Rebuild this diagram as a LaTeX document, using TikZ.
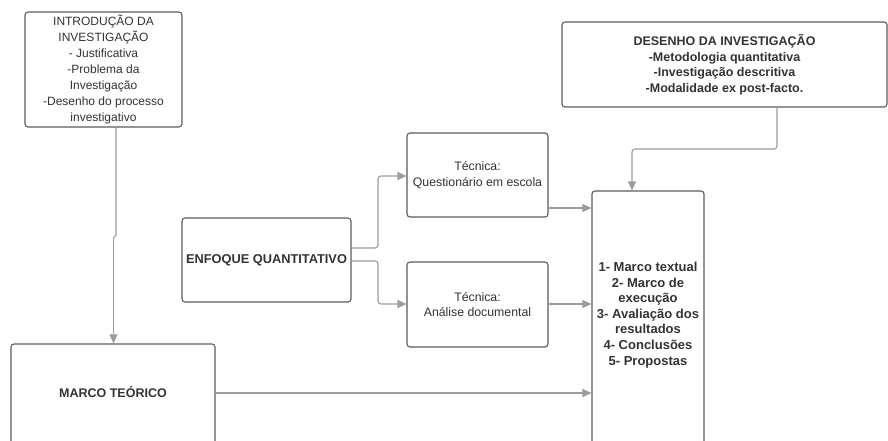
\documentclass[tikz,border=0pt]{standalone}
\usepackage{fontspec}
\setmainfont{Liberation Sans}
\usetikzlibrary{arrows.meta}
\definecolor{boxline}{HTML}{5C5C5C}
\definecolor{conn}{HTML}{9C9C9C}
\definecolor{txt}{HTML}{333333}
\begin{document}
\begin{tikzpicture}[x=1pt,y=-1pt,
  box/.style={draw=boxline, line width=1.1pt, rounded corners=3pt, fill=white, inner sep=0pt, text=txt, align=center, font=\fontsize{12.3}{15.5}\selectfont},
  lbl/.style={inner sep=0pt, text=txt, align=center, font=\fontsize{12}{15.5}\selectfont},
  conn/.style={draw=conn, line width=1.1pt, rounded corners=3pt, -{Triangle[length=9pt,width=8pt]}},
  plain/.style={draw=conn, line width=1.1pt, rounded corners=3pt}]
\useasboundingbox (0,0) rectangle (888,440);
\fill[white] (0,0) rectangle (888,440);

% boxes
\node[box, minimum width=157pt, minimum height=115pt, font=\fontsize{12}{16}\selectfont] (intro) at (103.5,69.5)
  {INTRODUÇÃO DA\\INVESTIGAÇÃO\\- Justificativa\\-Problema da\\Investigação\\-Desenho do processo\\investigativo};
\node[box, minimum width=325pt, minimum height=85pt, font=\fontsize{12.5}{15.5}\selectfont\bfseries] (des) at (724.5,64.5)
  {DESENHO DA INVESTIGAÇÃO\\-Metodologia quantitativa\\-Investigação descritiva\\-Modalidade ex post-facto.};
\node[box, minimum width=169pt, minimum height=84pt, font=\fontsize{12.8}{15}\selectfont\bfseries] (enf) at (266.5,260) {ENFOQUE QUANTITATIVO};
\node[box, minimum width=141pt, minimum height=84pt] (que) at (477.5,175) {Técnica:\\Questionário em escola};
\node[box, minimum width=141pt, minimum height=85pt] (ana) at (477.5,304.5) {Técnica:\\Análise documental};
\node[box, minimum width=112pt, minimum height=262pt] (res) at (648,322) {};
\node[lbl, font=\fontsize{13}{15.6}\selectfont\bfseries] (restext) at (648,315)
  {1- Marco textual\\2- Marco de\\execução\\3- Avaliação dos\\resultados\\4- Conclusões\\5- Propostas};
\node[box, minimum width=204pt, minimum height=110pt] (mar) at (113,399) {};
\node[lbl, font=\fontsize{12.5}{15}\selectfont\bfseries] (martext) at (113,392) {MARCO TEÓRICO};

% connectors
\coordinate (j1) at (116,235);
\coordinate (j2) at (113.5,238);
\draw[plain, rounded corners=0pt] (intro.south -| j1) -- (j1) -- (j2);
\draw[conn] (j2) -- (j2 |- mar.north);

\coordinate (d1) at (777,149);
\coordinate (d2) at (632,149);
\draw[conn] (d1 |- des.south) -- (d1) -- (d2) -- (d2 |- res.north);

\coordinate (e1) at (378,248);
\coordinate (e2) at (378,261);
\draw[conn] (e1 -| enf.east) -- (e1) -- (378,176) -- (que.west |- 0,176);
\draw[conn] (e2 -| enf.east) -- (e2) -- (378,304) -- (ana.west |- 0,304);

\draw[conn] (que.east |- 0,208) -- (res.west |- 0,208);
\draw[conn] (ana.east |- 0,304) -- (res.west |- 0,304);
\draw[conn] (mar.east |- 0,393) -- (res.west |- 0,393);
\end{tikzpicture}
\end{document}
